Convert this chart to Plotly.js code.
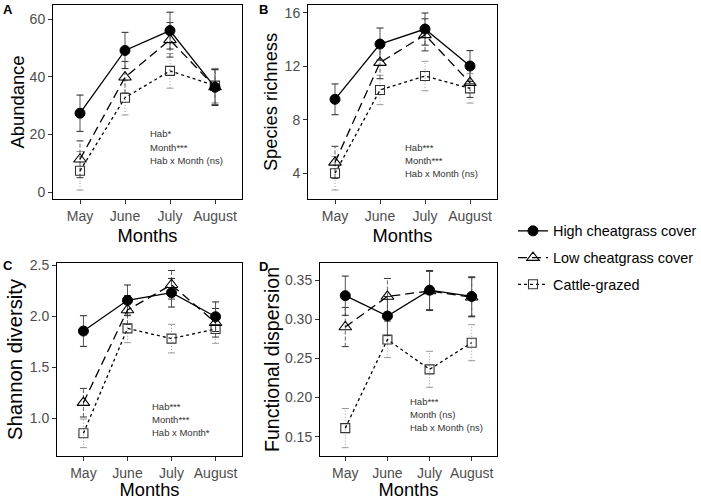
<!DOCTYPE html>
<html>
<head>
<meta charset="utf-8">
<script src="https://cdn.plot.ly/plotly-3.0.1.min.js"></script>
<style>html,body{margin:0;padding:0;background:#fff}#chart{width:701px;height:500px}</style>
</head>
<body>
<div id="chart"></div>
<script>
const months = ["May", "June", "July", "August"];
const seriesNames = ["High cheatgrass cover", "Low cheatgrass cover", "Cattle-grazed"];

// Panel A: Abundance
const abundHigh = [27.4, 49.2, 56.1, 36.4];
const abundHighErr = [6.3, 6.3, 6.4, 6.3];
const abundLow = [11.4, 39.9, 52.9, 36.5];
const abundLowErr = [6.4, 5.5, 6.0, 6.0];
const abundCattle = [7.4, 32.8, 42.1, 37.0];
const abundCattleErr = [6.7, 6.0, 6.0, 6.0];

// Panel B: Species richness
const richHigh = [9.53, 13.66, 14.78, 12.02];
const richHighErr = [1.15, 1.2, 1.2, 1.15];
const richLow = [4.82, 12.27, 14.35, 10.77];
const richLowErr = [1.2, 1.2, 1.2, 1.1];
const richCattle = [4.0, 10.23, 11.27, 10.35];
const richCattleErr = [1.25, 1.1, 1.1, 1.1];

// Panel C: Shannon diversity
const shanHigh = [1.854, 2.155, 2.229, 1.994];
const shanHighErr = [0.15, 0.15, 0.14, 0.145];
const shanLow = [1.153, 2.06, 2.307, 1.935];
const shanLowErr = [0.14, 0.14, 0.14, 0.14];
const shanCattle = [0.853, 1.88, 1.78, 1.874];
const shanCattleErr = [0.14, 0.14, 0.14, 0.14];

// Panel D: Functional dispersion
const fdisHigh = [0.330, 0.304, 0.337, 0.329];
const fdisHighErr = [0.025, 0.025, 0.025, 0.025];
const fdisLow = [0.290, 0.329, 0.336, 0.328];
const fdisLowErr = [0.025, 0.023, 0.025, 0.025];
const fdisCattle = [0.161, 0.274, 0.236, 0.270];
const fdisCattleErr = [0.025, 0.023, 0.023, 0.023];

const panelLabels = ["A", "B", "C", "D"];
const yTitles = ["Abundance", "Species richness", "Shannon diversity", "Functional dispersion"];
const statsA = ["Hab*", "Month***", "Hab x Month (ns)"];
const statsB = ["Hab***", "Month***", "Hab x Month (ns)"];
const statsC = ["Hab***", "Month***", "Hab x Month*"];
const statsD = ["Hab***", "Month (ns)", "Hab x Month (ns)"];

const styles = [
  {line: {color: "#000", width: 1.3, dash: "solid"}, marker: {symbol: "circle", size: 10, color: "#000", line: {color: "#000", width: 1}}, err: "#555", errDash: "solid", cap: "#222"},
  {line: {color: "#000", width: 1.3, dash: "9px,5px"}, marker: {symbol: "triangle-up-open", size: 11, color: "#000", line: {color: "#000", width: 1.1}}, err: "#666", errDash: "4px,2px", cap: "#333"},
  {line: {color: "#000", width: 1.3, dash: "dot"}, marker: {symbol: "square-open", size: 9, color: "#333", line: {color: "#333", width: 1.1}}, err: "#999", errDash: "1px,2px", cap: "#999"}
];

const panels = [
  {vals: [abundHigh, abundLow, abundCattle], errs: [abundHighErr, abundLowErr, abundCattleErr], ax: ""},
  {vals: [richHigh, richLow, richCattle], errs: [richHighErr, richLowErr, richCattleErr], ax: "2"},
  {vals: [shanHigh, shanLow, shanCattle], errs: [shanHighErr, shanLowErr, shanCattleErr], ax: "3"},
  {vals: [fdisHigh, fdisLow, fdisCattle], errs: [fdisHighErr, fdisLowErr, fdisCattleErr], ax: "4"}
];

const traces = [];
// error bars (vertical segments + caps) built from the data
panels.forEach((p) => {
  [2, 1, 0].forEach(si => {
    const ex = [], ey = [], cx = [], cy = [];
    months.forEach((m, k) => {
      const v = p.vals[si][k], e = p.errs[si][k];
      ex.push(m, m, null); ey.push(v - e, v + e, null);
      cx.push(m, m); cy.push(v - e, v + e);
    });
    traces.push({type: "scatter", mode: "lines", x: ex, y: ey, showlegend: false, hoverinfo: "skip",
      xaxis: "x" + p.ax, yaxis: "y" + p.ax, connectgaps: false,
      line: {color: styles[si].err, width: 1, dash: styles[si].errDash}});
    traces.push({type: "scatter", mode: "markers", x: cx, y: cy, showlegend: false, hoverinfo: "skip",
      xaxis: "x" + p.ax, yaxis: "y" + p.ax,
      marker: {symbol: "line-ew", size: 5, line: {color: styles[si].cap, width: 1}}});
  });
});
panels.forEach((p, pi) => {
  [2, 1, 0].forEach(si => {
    traces.push({
      type: "scatter", mode: "lines+markers",
      x: months, y: p.vals[si],
      name: seriesNames[si],
      legendgroup: "g" + si,
      legendrank: si + 1,
      showlegend: pi === 0,
      xaxis: "x" + p.ax, yaxis: "y" + p.ax,
      line: styles[si].line,
      marker: styles[si].marker
    });
  });
});

const W = 701, H = 500;
const xd = [[53 / W, 242 / W], [308 / W, 497 / W], [57 / W, 242 / W], [320 / W, 497 / W]];
const yd = [[1 - 199 / H, 1 - 5 / H], [1 - 199 / H, 1 - 5 / H], [1 - 456 / H, 1 - 263 / H], [1 - 456 / H, 1 - 263 / H]];
const yr = [[-2.4, 65], [2.08, 16.58], [0.631, 2.52], [0.1254, 0.3717]];
const ytv = [[0, 20, 40, 60], [4, 8, 12, 16], [1.0, 1.5, 2.0, 2.5], [0.15, 0.20, 0.25, 0.30, 0.35]];
const ytt = [["0", "20", "40", "60"], ["4", "8", "12", "16"], ["1.0", "1.5", "2.0", "2.5"], ["0.15", "0.20", "0.25", "0.30", "0.35"]];
const ytSize = [18.4, 18.3, 20.3, 19.6];
const ytStandoff = [0, 2, 1, 0];

const font = "Liberation Sans, Arial, sans-serif";
const layout = {
  width: W, height: H,
  margin: {l: 0, r: 0, t: 0, b: 0, autoexpand: false},
  paper_bgcolor: "#fff", plot_bgcolor: "#fff",
  font: {family: font, color: "#000"},
  showlegend: true,
  legend: {x: 513 / W, y: 1 - 258 / H, xanchor: "left", yanchor: "middle", font: {size: 14.4, color: "#000", family: font},
           traceorder: "grouped", tracegroupgap: 5, itemwidth: 30, bgcolor: "rgba(0,0,0,0)"},
  annotations: [],
  shapes: []
};

const axStyle = {
  showline: true, mirror: true, linecolor: "#000", linewidth: 1,
  showgrid: false, zeroline: false,
  ticks: "outside", ticklen: 4, tickcolor: "#333", tickwidth: 1,
  tickfont: {size: 14, color: "#4d4d4d", family: font}
};

for (let i = 0; i < 4; i++) {
  const s = i === 0 ? "" : String(i + 1);
  layout["xaxis" + s] = Object.assign({}, axStyle, {
    domain: xd[i], anchor: "y" + s, type: "category", range: [-0.6, 3.6],
    title: {text: "Months", font: {size: 18.3, color: "#000", family: font}, standoff: 6}
  });
  layout["yaxis" + s] = Object.assign({}, axStyle, {
    domain: yd[i], anchor: "x" + s, range: yr[i], tickvals: ytv[i], ticktext: ytt[i],
    title: {text: yTitles[i], font: {size: ytSize[i], color: "#000", family: font}, standoff: ytStandoff[i]}
  });
}

const labelPos = [[8, 9], [263, 9.5], [8, 265], [263, 266]];
labelPos.forEach((pos, i) => {
  layout.annotations.push({xref: "paper", yref: "paper", x: pos[0] / W, y: 1 - pos[1] / H,
    text: "<b>" + panelLabels[i] + "</b>", showarrow: false, xanchor: "center", yanchor: "middle",
    font: {size: 13, color: "#000", family: font}});
});

const statsSets = [statsA, statsB, statsC, statsD];
const statsPos = [[148, [133, 147, 160]], [403, [147, 160, 173]], [150, [406, 419, 432]], [408, [401, 414, 427]]];
statsSets.forEach((lines, i) => {
  lines.forEach((t, j) => {
    layout.annotations.push({xref: "paper", yref: "paper", x: statsPos[i][0] / W, y: 1 - statsPos[i][1][j] / H,
      text: t, showarrow: false, xanchor: "left", yanchor: "middle",
      font: {size: 9.5, color: "#333", family: font}});
  });
});

Plotly.newPlot("chart", traces, layout, {displayModeBar: false, staticPlot: true});
</script>
</body>
</html>
